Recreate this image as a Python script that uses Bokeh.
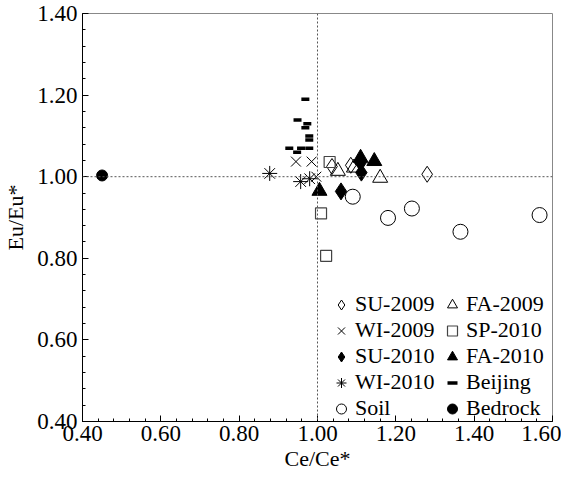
from bokeh.plotting import figure
from bokeh.models import (Span, FixedTicker, PrintfTickFormatter, Legend, LegendItem)
from bokeh.embed import file_html
from bokeh.resources import INLINE

# ---- data ----
su2009_x = [1.037, 1.085, 1.280]
su2009_y = [1.025, 1.028, 1.006]
fa2009_x = [1.052, 1.093, 1.160]
fa2009_y = [1.014, 1.022, 0.997]
wi2009_x = [0.945, 0.985, 0.997]
wi2009_y = [1.037, 1.037, 1.000]
sp2010_x = [1.031, 1.009, 1.022]
sp2010_y = [1.036, 0.910, 0.806]
su2010_x = [1.060, 1.110, 1.112]
su2010_y = [0.964, 1.034, 1.010]
fa2010_x = [1.005, 1.110, 1.145]
fa2010_y = [0.965, 1.046, 1.038]
wi2010_x = [0.878, 0.957, 0.980]
wi2010_y = [1.008, 0.988, 0.995]
beijing_x = [0.969, 0.949, 0.974, 0.969, 0.979, 0.979, 0.928, 0.958, 0.979, 0.948]
beijing_y = [1.190, 1.139, 1.130, 1.120, 1.100, 1.090, 1.070, 1.070, 1.070, 1.060]
soil_x = [1.090, 1.180, 1.241, 1.365, 1.567]
soil_y = [0.951, 0.899, 0.922, 0.865, 0.906]
bedrock_x = [0.450]
bedrock_y = [1.003]

x_ticks = [0.40, 0.60, 0.80, 1.00, 1.20, 1.40, 1.60]
y_ticks = [0.40, 0.60, 0.80, 1.00, 1.20, 1.40]

FONT = "Liberation Serif"

p = figure(frame_width=470, frame_height=408, x_range=(0.4, 1.6), y_range=(0.4, 1.4),
           output_backend="svg", toolbar_location=None,
           min_border_left=80, min_border_right=9, min_border_top=13, min_border_bottom=47)
p.background_fill_color = "white"
p.border_fill_color = "white"
p.outline_line_color = "#888888"
p.outline_line_width = 1
p.grid.visible = False

p.add_layout(Span(location=1.0, dimension="height", line_color="#555555",
                  line_dash="2 2", line_width=1))
p.add_layout(Span(location=1.0, dimension="width", line_color="#555555",
                  line_dash="2 2", line_width=1))

minor_x = [round(0.4 + 0.04 * i, 2) for i in range(31)]
minor_y = [round(0.4 + 0.04 * i, 2) for i in range(26)]
p.xaxis.ticker = FixedTicker(ticks=x_ticks, minor_ticks=minor_x)
p.yaxis.ticker = FixedTicker(ticks=y_ticks, minor_ticks=minor_y)
for ax in (p.xaxis, p.yaxis):
    ax.formatter = PrintfTickFormatter(format="%.2f")
    ax.major_tick_in = 6
    ax.major_tick_out = 0
    ax.minor_tick_in = 3
    ax.minor_tick_out = 0
    ax.axis_line_color = "black"
    ax.major_tick_line_color = "black"
    ax.minor_tick_line_color = "black"
    ax.major_label_text_font = FONT
    ax.major_label_text_font_size = "23px"
    ax.major_label_text_color = "black"
    ax.axis_label_text_font = FONT
    ax.axis_label_text_font_size = "22px"
    ax.axis_label_text_font_style = "normal"
    ax.axis_label_text_color = "black"
p.xaxis.axis_label = "Ce/Ce*"
p.yaxis.axis_label = "Eu/Eu*"
p.xaxis.major_label_standoff = 4
p.yaxis.major_label_standoff = 5
p.xaxis.axis_label_standoff = 2
p.yaxis.axis_label_standoff = 6

r_su09 = p.scatter(su2009_x, su2009_y, marker="diamond", size=16, fill_color=None,
                   line_color="black", line_width=1)
r_fa09 = p.scatter(fa2009_x, fa2009_y, marker="triangle", size=15, fill_color=None,
                   line_color="black", line_width=1)
r_wi09 = p.scatter(wi2009_x, wi2009_y, marker="x", size=14, line_color="black", line_width=1)
r_sp10 = p.scatter(sp2010_x, sp2010_y, marker="square", size=11, fill_color=None,
                   line_color="#444444", line_width=1.2)
r_su10 = p.scatter(su2010_x, su2010_y, marker="diamond", size=17, fill_color="black",
                   line_color="black")
r_fa10 = p.scatter(fa2010_x, fa2010_y, marker="triangle", size=15, fill_color="black",
                   line_color="black")
r_wi10 = p.scatter(wi2010_x, wi2010_y, marker="asterisk", size=15, line_color="black",
                   line_width=1)
r_bj = p.scatter(beijing_x, beijing_y, marker="dash", size=8, line_color="black",
                 line_width=3.5)
r_soil = p.scatter(soil_x, soil_y, marker="circle", size=15, fill_color=None,
                   line_color="black", line_width=1)
r_bed = p.scatter(bedrock_x, bedrock_y, marker="circle", size=11, fill_color="black",
                  line_color="black")

common = dict(label_text_font=FONT, label_text_font_size="22px",
              label_text_color="black", label_text_baseline="middle",
              glyph_width=28, glyph_height=25, label_height=22,
              label_standoff=0, spacing=0, padding=0, margin=0,
              background_fill_alpha=0, border_line_alpha=0)

leg1 = Legend(items=[
    LegendItem(label="SU-2009", renderers=[r_su09]),
    LegendItem(label="WI-2009", renderers=[r_wi09]),
    LegendItem(label="SU-2010", renderers=[r_su10]),
    LegendItem(label="WI-2010", renderers=[r_wi10]),
    LegendItem(label="Soil", renderers=[r_soil]),
], location=(245, 0), **common)
leg2 = Legend(items=[
    LegendItem(label="FA-2009", renderers=[r_fa09]),
    LegendItem(label="SP-2010", renderers=[r_sp10]),
    LegendItem(label="FA-2010", renderers=[r_fa10]),
    LegendItem(label="Beijing", renderers=[r_bj]),
    LegendItem(label="Bedrock", renderers=[r_bed]),
], location=(356, 0), **common)
p.add_layout(leg1, "center")
p.add_layout(leg2, "center")

open("out.html", "w").write(file_html(p, INLINE))
